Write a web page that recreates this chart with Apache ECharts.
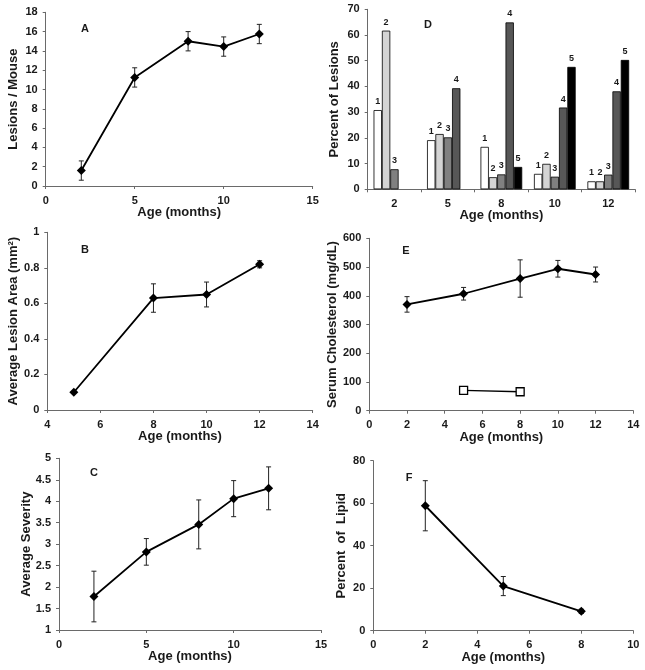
<!DOCTYPE html>
<html><head><meta charset="utf-8">
<script src="https://cdn.jsdelivr.net/npm/echarts@6/dist/echarts.min.js"></script>
<style>html,body{margin:0;padding:0;background:#fff}#c{width:645px;height:670px}</style>
</head><body><div id="c"></div>
<script>
// Panel A: lesions per mouse
const ageA = [2, 5, 8, 10, 12];
const lesionsPerMouse = [1.6, 11.25, 15.0, 14.45, 15.75];
const lesionsErr = [1.0, 1.0, 1.0, 1.0, 1.0];
// Panel B: average lesion area
const ageB = [5, 8, 10, 12];
const lesionArea = [0.10, 0.63, 0.65, 0.82];
const lesionAreaErr = [0, 0.08, 0.07, 0.02];
// Panel C: average severity
const ageC = [2, 5, 8, 10, 12];
const severity = [1.78, 2.82, 3.46, 4.06, 4.30];
const severityErr = [0.59, 0.31, 0.57, 0.42, 0.50];
// Panel D: percent of lesions by grade
const ageD = ['2', '5', '8', '10', '12'];
const gradeNames = ['1', '2', '3', '4', '5'];
const grade1 = [30.8, 19.1, 16.5, 6.0, 3.1];
const grade2 = [61.7, 21.5, 4.7, 9.9, 3.1];
const grade3 = [7.8, 20.2, 5.8, 4.9, 5.7];
const grade4 = [null, 39.3, 64.9, 31.8, 38.1];
const grade5 = [null, null, 8.7, 47.6, 50.3];
// Panel E: serum cholesterol
const ageE = [2, 5, 8, 10, 12];
const cholesterol = [370, 407, 460, 494, 474];
const cholesterolErr = [27, 22, 65, 29, 26];
const ageE2 = [5, 8];
const cholesterol2 = [71, 66];
// Panel F: percent of lipid
const ageF = [2, 5, 8];
const lipid = [58.8, 21.0, 9.1];
const lipidErr = [11.8, 4.5, 1.0];

const FONT = "'Liberation Sans', Arial, sans-serif";
const TXT = '#1a1a1a';
const AXC = '#6a6a6a';

const grids = [
  {left: 45.7, top: 12.3, width: 267, height: 173.7},   // A
  {left: 47.3, top: 232.3, width: 265.4, height: 177.7}, // B
  {left: 59, top: 458.3, width: 262, height: 171.7},     // C
  {left: 367.7, top: 9.3, width: 267.3, height: 180},    // D
  {left: 369.3, top: 238.3, width: 264, height: 172.4},  // E
  {left: 373.3, top: 460.7, width: 260, height: 170}     // F
];

function valAxis(gi, min, max, interval, isX, name, extra) {
  const a = {
    type: 'value', gridIndex: gi, min: min, max: max, interval: interval,
    splitLine: {show: false},
    axisLine: {show: true, lineStyle: {color: AXC, width: 1}},
    axisTick: {show: true, length: 3, inside: false, lineStyle: {color: AXC}},
    axisLabel: {color: TXT, fontFamily: FONT, fontWeight: 'bold', fontSize: 11, margin: isX ? 9 : 8, showMinLabel: true, showMaxLabel: true},
    name: name, nameLocation: 'middle', nameMoveOverlap: false,
    nameTextStyle: {color: TXT, fontFamily: FONT, fontWeight: 'bold', fontSize: 13},
    nameGap: isX ? 20 : 26
  };
  return Object.assign(a, extra || {});
}

const xAxes = [
  valAxis(0, 0, 15, 5, true, 'Age (months)'),
  valAxis(1, 4, 14, 2, true, 'Age (months)'),
  valAxis(2, 0, 15, 5, true, 'Age (months)'),
  {
    type: 'category', gridIndex: 3, data: ageD, boundaryGap: true,
    axisLine: {show: true, lineStyle: {color: AXC, width: 1}},
    axisTick: {show: true, length: 3, lineStyle: {color: AXC}},
    axisLabel: {color: TXT, fontFamily: FONT, fontWeight: 'bold', fontSize: 11, margin: 9},
    name: 'Age (months)', nameLocation: 'middle', nameMoveOverlap: false, nameGap: 20,
    nameTextStyle: {color: TXT, fontFamily: FONT, fontWeight: 'bold', fontSize: 13}
  },
  valAxis(4, 0, 14, 2, true, 'Age (months)'),
  valAxis(5, 0, 10, 2, true, 'Age (months)')
];
const yAxes = [
  valAxis(0, 0, 18, 2, false, 'Lesions / Mouse'),
  valAxis(1, 0, 1, 0.2, false, 'Average Lesion Area (mm²)', {nameGap: 27}),
  valAxis(2, 1, 5, 0.5, false, 'Average Severity', {nameGap: 26}),
  valAxis(3, 0, 70, 10, false, 'Percent of Lesions', {nameGap: 27}),
  valAxis(4, 0, 600, 100, false, 'Serum Cholesterol (mg/dL)', {nameGap: 30}),
  valAxis(5, 0, 80, 20, false, 'Percent  of  Lipid', {nameGap: 25})
];

function zip3(xs, ys, es) { return xs.map((x, i) => [x, ys[i], es[i]]); }
function zip2(xs, ys) { return xs.map((x, i) => [x, ys[i]]); }

function errSeries(gi, data) {
  return {
    type: 'custom', xAxisIndex: gi, yAxisIndex: gi, data: data, z: 3, silent: true,
    encode: {x: 0, y: 1},
    renderItem: function (params, api) {
      const x = api.value(0), y = api.value(1), e = api.value(2);
      if (!e) return null;
      const t = api.coord([x, y + e]), b = api.coord([x, y - e]);
      const w = 2.5;
      const st = {stroke: '#222', lineWidth: 1};
      return {type: 'group', children: [
        {type: 'line', shape: {x1: t[0], y1: t[1], x2: b[0], y2: b[1]}, style: st},
        {type: 'line', shape: {x1: t[0] - w, y1: t[1], x2: t[0] + w, y2: t[1]}, style: st},
        {type: 'line', shape: {x1: b[0] - w, y1: b[1], x2: b[0] + w, y2: b[1]}, style: st}
      ]};
    }
  };
}
function lineSeries(gi, data) {
  return {
    type: 'line', xAxisIndex: gi, yAxisIndex: gi, data: data, z: 4, silent: true,
    symbol: 'diamond', symbolSize: 9, showAllSymbol: true,
    lineStyle: {color: '#000', width: 1.8},
    itemStyle: {color: '#000'}
  };
}

const barColors = ['#ffffff', '#d4d4d4', '#808080', '#575757', '#000000'];
const grades = [grade1, grade2, grade3, grade4, grade5];
const barSeries = grades.map((g, i) => ({
  type: 'bar', name: gradeNames[i], xAxisIndex: 3, yAxisIndex: 3, data: g,
  barGap: '0%', barCategoryGap: '22%', silent: true,
  itemStyle: {color: barColors[i], borderColor: '#000', borderWidth: 0.8},
  label: {show: true, position: 'top', distance: 4, formatter: '{a}', color: TXT,
    fontFamily: FONT, fontWeight: 'bold', fontSize: 9}
}));

const series = [
  lineSeries(0, zip2(ageA, lesionsPerMouse)), errSeries(0, zip3(ageA, lesionsPerMouse, lesionsErr)),
  lineSeries(1, zip2(ageB, lesionArea)), errSeries(1, zip3(ageB, lesionArea, lesionAreaErr)),
  lineSeries(2, zip2(ageC, severity)), errSeries(2, zip3(ageC, severity, severityErr)),
  ...barSeries,
  lineSeries(4, zip2(ageE, cholesterol)), errSeries(4, zip3(ageE, cholesterol, cholesterolErr)),
  {
    type: 'line', xAxisIndex: 4, yAxisIndex: 4, data: zip2(ageE2, cholesterol2), z: 4, silent: true,
    symbol: 'rect', symbolSize: 8, lineStyle: {color: '#000', width: 1.3},
    itemStyle: {color: '#fff', borderColor: '#000', borderWidth: 1.3}
  },
  lineSeries(5, zip2(ageF, lipid)), errSeries(5, zip3(ageF, lipid, lipidErr))
];

const letters = [
  {t: 'A', x: 85, y: 29}, {t: 'B', x: 85, y: 250}, {t: 'C', x: 94, y: 473},
  {t: 'D', x: 428, y: 25}, {t: 'E', x: 406, y: 251}, {t: 'F', x: 409, y: 478}
];

const chart = echarts.init(document.getElementById('c'), null, {renderer: 'canvas'});
chart.setOption({
  animation: false,
  backgroundColor: '#fff',
  grid: grids,
  xAxis: xAxes,
  yAxis: yAxes,
  series: series,
  graphic: letters.map(l => ({
    type: 'text', x: l.x, y: l.y,
    style: {text: l.t, fill: TXT, font: 'bold 11px ' + FONT, align: 'center', verticalAlign: 'middle'}
  }))
});
</script></body></html>
